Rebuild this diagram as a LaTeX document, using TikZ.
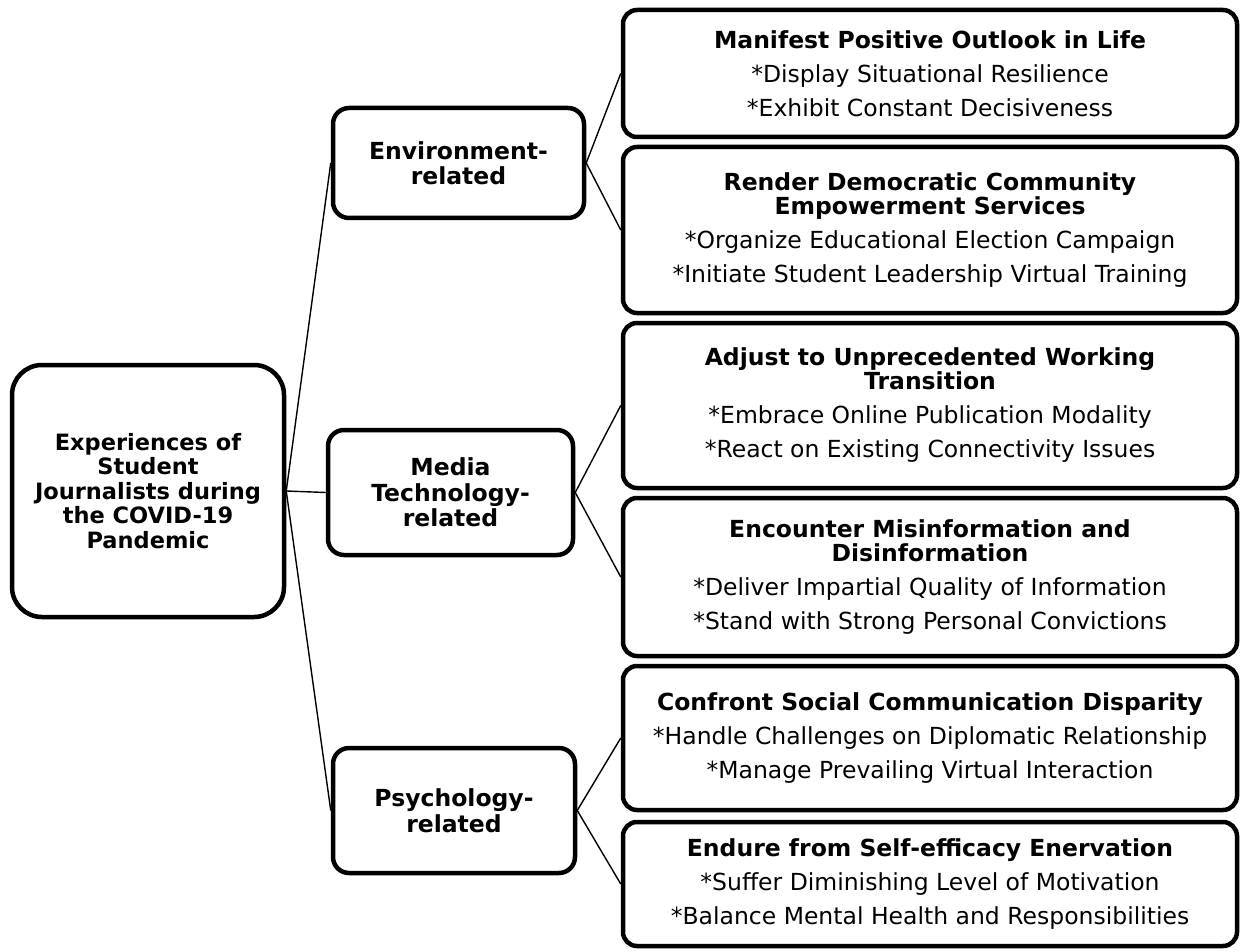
\documentclass[tikz,border=0pt]{standalone}
\usepackage{fontspec}
\setmainfont{DejaVu Sans}
\begin{document}
\begin{tikzpicture}[x=1pt,y=-1pt,
  box/.style={draw=black, line width=4.5pt, rounded corners=14pt, align=center, inner sep=0pt, font=\fontsize{23.5}{24}\selectfont},
  rootbox/.style={box, rounded corners=30pt, font=\fontsize{22.5}{24.5}\selectfont\bfseries},
  midbox/.style={box, rounded corners=16pt, font=\fontsize{23.5}{25.5}\selectfont\bfseries},
  leafbox/.style={box, minimum width=614pt},
  conn/.style={draw=black, line width=1.4pt}]
\useasboundingbox (0,0) rectangle (1242,952);

\node[rootbox, minimum width=272pt, minimum height=252pt] (root) at (148,491)
  {Experiences of\\Student\\Journalists during\\the COVID-19\\Pandemic};

\node[midbox, minimum width=251pt, minimum height=110pt] (env) at (458.5,163)
  {Environment-\\related};
\node[midbox, minimum width=245pt, minimum height=125pt] (med) at (450.5,492.5)
  {Media\\Technology-\\related};
\node[midbox, minimum width=242pt, minimum height=125pt] (psy) at (454,810.5)
  {Psychology-\\related};

\node[leafbox, minimum height=127pt] (l1) at (930,73.5)
  {\textbf{Manifest Positive Outlook in Life}\\[10pt]
   *Display Situational Resilience\\[10pt]
   *Exhibit Constant Decisiveness};
\node[leafbox, minimum height=166pt] (l2) at (930,230)
  {\textbf{Render Democratic Community}\\
   \textbf{Empowerment Services}\\[10pt]
   *Organize Educational Election Campaign\\[10pt]
   *Initiate Student Leadership Virtual Training};
\node[leafbox, minimum height=165pt] (l3) at (930,405.5)
  {\textbf{Adjust to Unprecedented Working}\\
   \textbf{Transition}\\[10pt]
   *Embrace Online Publication Modality\\[10pt]
   *React on Existing Connectivity Issues};
\node[leafbox, minimum height=158pt] (l4) at (930,577)
  {\textbf{Encounter Misinformation and}\\
   \textbf{Disinformation}\\[10pt]
   *Deliver Impartial Quality of Information\\[10pt]
   *Stand with Strong Personal Convictions};
\node[leafbox, minimum height=144pt] (l5) at (930,738)
  {\textbf{Confront Social Communication Disparity}\\[10pt]
   *Handle Challenges on Diplomatic Relationship\\[10pt]
   *Manage Prevailing Virtual Interaction};
\node[leafbox, minimum height=124pt] (l6) at (930,884)
  {\textbf{Endure from Self-efficacy Enervation}\\[10pt]
   *Suffer Diminishing Level of Motivation\\[10pt]
   *Balance Mental Health and Responsibilities};

\draw[conn] (root.east) -- (env.west);
\draw[conn] (root.east) -- (med.west);
\draw[conn] (root.east) -- (psy.west);
\draw[conn] (env.east) -- (l1.west);
\draw[conn] (env.east) -- (l2.west);
\draw[conn] (med.east) -- (l3.west);
\draw[conn] (med.east) -- (l4.west);
\draw[conn] (psy.east) -- (l5.west);
\draw[conn] (psy.east) -- (l6.west);
\end{tikzpicture}
\end{document}
